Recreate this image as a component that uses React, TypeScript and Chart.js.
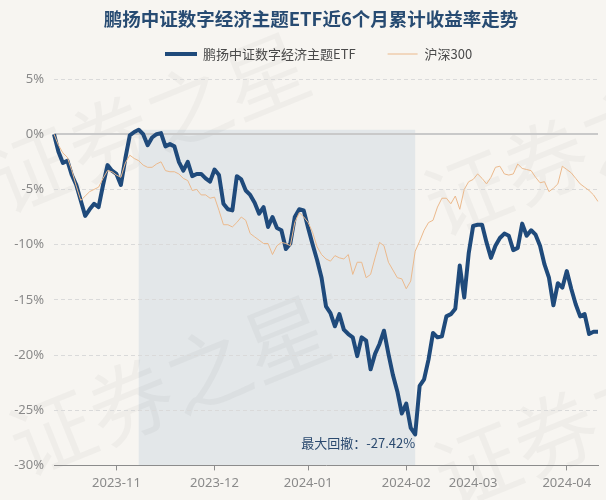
import React, { useEffect, useRef } from "react";
import { Chart, registerables } from "chart.js";

Chart.register(...registerables);

// ---- data ----
const titleText = "鹏扬中证数字经济主题ETF近6个月累计收益率走势";
const etfName = "鹏扬中证数字经济主题ETF";
const indexName = "沪深300";
const maxDrawdownText = "最大回撤：-27.42%";

const monthKeys = ["2023-10", "2023-11", "2023-12", "2024-01", "2024-02", "2024-03", "2024-04"];
const monthTradingDays = [
  [12, 13, 16, 17, 18, 19, 20, 23, 24, 25, 26, 27, 30, 31],
  [1, 2, 3, 6, 7, 8, 9, 10, 13, 14, 15, 16, 17, 20, 21, 22, 23, 24, 27, 28, 29, 30],
  [1, 4, 5, 6, 7, 8, 11, 12, 13, 14, 15, 18, 19, 20, 21, 22, 25, 26, 27, 28, 29],
  [2, 3, 4, 5, 8, 9, 10, 11, 12, 15, 16, 17, 18, 19, 22, 23, 24, 25, 26, 29, 30, 31],
  [1, 2, 5, 6, 7, 8, 19, 20, 21, 22, 23, 26, 27, 28, 29],
  [1, 4, 5, 6, 7, 8, 11, 12, 13, 14, 15, 18, 19, 20, 21, 22, 25, 26, 27, 28, 29],
  [1, 2, 3, 8, 9, 10, 11, 12],
];
const dates: string[] = monthKeys.flatMap((m, k) =>
  monthTradingDays[k].map((d) => `${m}-${String(d).padStart(2, "0")}`)
);

const etfReturns = [
  0, -1.6, -2.6, -2.4, -3.7, -4.6, -6.0, -7.4, -6.8, -6.3,
  -6.6, -4.6, -2.8, -3.3, -3.6, -4.6, -2.2, -0.1, 0.2, 0.4,
  0.0, -1.0, -0.3, 0.0, 0.1, -1.1, -0.9, -1.1, -2.5, -3.3,
  -2.5, -3.8, -3.6, -3.6, -4.0, -4.3, -3.2, -3.7, -6.3, -6.8,
  -6.9, -3.8, -4.1, -5.1, -5.5, -6.2, -7.2, -6.6, -8.4, -7.5,
  -8.5, -8.7, -10.4, -9.9, -7.5, -6.8, -6.9, -8.5, -10.0, -11.4,
  -13.0, -15.6, -16.2, -17.4, -16.3, -17.7, -18.1, -18.4, -20.1, -18.4,
  -18.7, -21.3, -19.9, -19.0, -17.8, -19.9, -21.8, -23.3, -25.3, -24.4,
  -26.6, -27.2, -22.8, -22.2, -20.4, -18.0, -18.4, -18.3, -16.5, -16.3,
  -15.8, -11.9, -14.8, -10.8, -8.3, -8.2, -8.2, -9.8, -11.2, -10.1,
  -9.4, -9.0, -9.2, -10.5, -10.3, -8.1, -9.2, -8.7, -9.1, -10.1,
  -11.8, -13.0, -15.5, -13.5, -13.9, -12.4, -14.0, -15.4, -16.5, -16.3,
  -18.1, -17.9, -17.9,
];

const hs300Returns = [
  0, -1.0, -1.7, -2.1, -3.3, -4.7, -6.0, -5.6, -5.2, -5.0,
  -4.8, -4.0, -3.3, -3.4, -3.7, -3.9, -2.6, -1.9, -2.2, -2.4,
  -2.8, -3.0, -3.0, -2.7, -2.5, -3.3, -3.4, -3.4, -3.6, -4.0,
  -4.2, -5.1, -5.0, -5.5, -5.5, -5.8, -5.7, -6.9, -8.2, -8.2,
  -8.4, -8.0, -7.5, -7.8, -9.0, -9.3, -9.6, -9.9, -9.9, -10.9,
  -10.1, -9.8, -9.9, -10.1, -8.0, -7.1, -7.5, -8.0, -8.9, -10.2,
  -10.9, -11.3, -11.5, -11.0, -11.2, -11.3, -10.9, -12.7, -11.6, -11.6,
  -13.0, -12.7, -11.2, -9.8, -10.1, -11.6, -12.3, -13.0, -13.1, -14.0,
  -13.3, -10.6, -9.7, -8.7, -8.0, -7.8, -6.6, -5.8, -5.8, -6.3,
  -5.6, -6.8, -5.0, -4.3, -4.1, -3.6, -4.0, -4.5, -3.9, -3.0,
  -2.9, -3.6, -3.7, -3.6, -2.7, -3.1, -3.2, -3.3, -3.9, -4.4,
  -4.3, -5.2, -4.9, -4.5, -2.9, -3.2, -3.5, -4.0, -4.5, -4.8,
  -5.1, -5.5, -6.1,
];

const yMin = -30;
const yMax = 5;
const yStep = 5;

// ---- styles ----
const BG = "#f7f5f1";
const SHADE = "#e3e7e9";
const ETF_COLOR = "#1f4a7b";
const HS_COLOR = "#ebb98c";
const TITLE_COLOR = "#274b72";
const TICK_COLOR = "#8a8a8a";
const CJK = '"Noto Sans CJK SC", sans-serif';
const LATIN = '"Noto Sans", "Noto Sans CJK SC", sans-serif';

function findMaxDrawdown(vals: number[]) {
  let peak = 0;
  let best = { peak: 0, trough: 0, dd: 0 };
  for (let j = 0; j < vals.length; j++) {
    if (vals[j] > vals[peak]) peak = j;
    const dd = (1 + vals[j] / 100) / (1 + vals[peak] / 100) - 1;
    if (dd < best.dd) best = { peak, trough: j, dd };
  }
  return best;
}

const monthStarts = dates
  .map((d, i) => (i > 0 && d.slice(0, 7) !== dates[i - 1].slice(0, 7) ? i : -1))
  .filter((i) => i >= 0);

const decorPlugin = {
  id: "decor",
  beforeDraw(chart: any) {
    const { ctx, chartArea, scales } = chart;
    ctx.save();
    ctx.fillStyle = BG;
    ctx.fillRect(0, 0, chart.width, chart.height);

    // drawdown shade
    const md = findMaxDrawdown(etfReturns);
    const x0 = scales.x.getPixelForValue(md.peak);
    const x1 = scales.x.getPixelForValue(md.trough);
    const yTop = scales.y.getPixelForValue(etfReturns[md.peak]);
    ctx.fillStyle = SHADE;
    ctx.fillRect(x0, yTop, x1 - x0, chartArea.bottom - yTop);

    // watermark
    ctx.fillStyle = "rgba(0,0,0,0.03)";
    ctx.font = `84px ${CJK}`;
    ctx.textBaseline = "alphabetic";
    ctx.textAlign = "left";
    const marks = [
      [5, 215],
      [25, 478],
      [440, 238],
      [450, 510],
    ];
    for (const [mx, my] of marks) {
      ctx.save();
      ctx.translate(mx, my);
      ctx.rotate((-22 * Math.PI) / 180);
      ctx.fillText("证券之星", 0, 0);
      ctx.restore();
    }

    // title
    ctx.font = `bold 18.5px ${CJK}`;
    ctx.fillStyle = TITLE_COLOR;
    ctx.textAlign = "center";
    ctx.textBaseline = "middle";
    ctx.fillText(titleText, 311, 19);

    // legend
    const ly = 54;
    ctx.font = `13px ${CJK}`;
    ctx.textAlign = "left";
    ctx.textBaseline = "middle";
    ctx.fillStyle = "#4a4a4a";
    let lx = 165;
    ctx.strokeStyle = ETF_COLOR;
    ctx.lineWidth = 4;
    ctx.beginPath();
    ctx.moveTo(lx, ly);
    ctx.lineTo(lx + 32, ly);
    ctx.stroke();
    ctx.fillText(etfName, lx + 38, ly);
    lx = lx + 38 + ctx.measureText(etfName).width + 32;
    ctx.strokeStyle = HS_COLOR;
    ctx.lineWidth = 1;
    ctx.beginPath();
    ctx.moveTo(lx, ly);
    ctx.lineTo(lx + 30, ly);
    ctx.stroke();
    ctx.fillText(indexName, lx + 37, ly);
    ctx.restore();
  },
  afterDatasetsDraw(chart: any) {
    const { ctx, chartArea, scales } = chart;
    const md = findMaxDrawdown(etfReturns);
    const x1 = scales.x.getPixelForValue(md.trough);
    ctx.save();
    ctx.font = `13px ${CJK}`;
    ctx.fillStyle = "#2b4a6f";
    ctx.textAlign = "right";
    ctx.textBaseline = "middle";
    ctx.fillText(maxDrawdownText, x1, chartArea.bottom - 22);
    ctx.restore();
  },
};

export default function App() {
  const canvasRef = useRef<HTMLCanvasElement | null>(null);

  useEffect(() => {
    if (!canvasRef.current) return;
    const chart = new Chart(canvasRef.current, {
      type: "line",
      data: {
        labels: dates,
        datasets: [
          {
            label: etfName,
            data: etfReturns,
            borderColor: ETF_COLOR,
            backgroundColor: ETF_COLOR,
            borderWidth: 4,
            pointRadius: 0,
            tension: 0,
            borderJoinStyle: "round",
            order: 2,
          },
          {
            label: indexName,
            data: hs300Returns,
            borderColor: HS_COLOR,
            backgroundColor: HS_COLOR,
            borderWidth: 1,
            pointRadius: 0,
            tension: 0,
            order: 1,
          },
        ],
      },
      options: {
        responsive: false,
        animation: false,
        layout: { padding: { top: 79, right: 8, bottom: 4, left: 0 } },
        plugins: {
          title: { display: false },
          legend: { display: false },
          tooltip: { enabled: false },
        },
        scales: {
          x: {
            type: "category",
            offset: false,
            grid: {
              display: true,
              drawOnChartArea: false,
              drawTicks: true,
              tickLength: 5,
              color: "#8c8c8c",
            },
            border: { display: true, color: "#8c8c8c", width: 1 },
            ticks: {
              autoSkip: false,
              maxRotation: 0,
              padding: 5,
              color: TICK_COLOR,
              font: { family: LATIN, size: 13 },
              callback: (value: any) => dates[value as number].slice(0, 7),
            },
            afterBuildTicks: (scale: any) => {
              scale.ticks = monthStarts.map((i) => ({ value: i }));
            },
          },
          y: {
            min: yMin,
            max: yMax,
            ticks: {
              stepSize: yStep,
              padding: 10,
              color: TICK_COLOR,
              font: { family: LATIN, size: 13 },
              callback: (v: any) => `${v}%`,
            },
            grid: {
              drawTicks: false,
              color: (c: any) =>
                c.tick && c.tick.value === 0
                  ? "#c9c9c9"
                  : c.tick && c.tick.value === yMin
                  ? "rgba(0,0,0,0)"
                  : "#dadada",
              lineWidth: (c: any) => (c.tick && c.tick.value === 0 ? 2 : 1),
            },
            border: {
              display: false,
              dash: (c: any) => (c.tick && c.tick.value === 0 ? [] : [4, 3]),
            },
            afterFit: (scale: any) => {
              scale.width = 54;
            },
          },
        },
      },
      plugins: [decorPlugin],
    } as any);
    return () => chart.destroy();
  }, []);

  return (
    <canvas
      ref={canvasRef}
      width={606}
      height={500}
      style={{ position: "absolute", left: 0, top: 0, width: 606, height: 500, display: "block" }}
    />
  );
}
